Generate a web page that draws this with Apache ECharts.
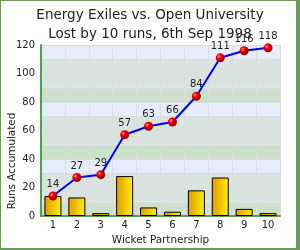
<!DOCTYPE html>
<html><head><meta charset="utf-8">
<script src="https://cdn.jsdelivr.net/npm/echarts@6/dist/echarts.min.js"></script>
<style>html,body{margin:0;padding:0;background:#fff}#c{width:300px;height:250px}</style>
</head><body><div id="c"></div>
<script>
var categories = ['1','2','3','4','5','6','7','8','9','10'];
var accumulated = [14, 27, 29, 57, 63, 66, 84, 111, 116, 118];
var partnership = [14, 13, 2, 28, 6, 3, 18, 27, 5, 2];
var yTicks = [0, 20, 40, 60, 80, 100, 120];
var titleText = 'Energy Exiles vs. Open University';
var subtitleText = 'Lost by 10 runs, 6th Sep 1998';

var font = 'DejaVu Sans';
var chart = echarts.init(document.getElementById('c'), null, {renderer: 'canvas'});
chart.setOption({
  animation: false,
  backgroundColor: '#fff',
  title: [
    {text: titleText, left: 'center', top: 3, textStyle: {fontFamily: font, fontSize: 13.5, fontWeight: 'normal', color: '#222'}},
    {text: subtitleText, left: 'center', top: 22, textStyle: {fontFamily: font, fontSize: 13.5, fontWeight: 'normal', color: '#222'}}
  ],
  graphic: [
    {type: 'rect', shape: {x: 0, y: 0, width: 300, height: 1}, style: {fill: '#6a9a5a'}},
    {type: 'rect', shape: {x: 0, y: 0, width: 1, height: 250}, style: {fill: '#6a9a5a'}},
    {type: 'rect', shape: {x: 296, y: 0, width: 4, height: 250}, style: {fill: '#6a9a5a'}},
    {type: 'rect', shape: {x: 0, y: 248, width: 300, height: 2}, style: {fill: '#6a9a5a'}},
    {type: 'text', x: 12, y: 161, rotation: Math.PI / 2, style: {text: 'Runs Accumulated', fontFamily: font, fontSize: 10.4, fill: '#222', align: 'center', verticalAlign: 'middle'}}
  ],
  grid: {left: 41, right: 20, top: 45, bottom: 34, containLabel: false},
  xAxis: {
    type: 'category', data: categories,
    name: 'Wicket Partnership', nameLocation: 'middle', nameGap: 13,
    nameTextStyle: {fontFamily: font, fontSize: 10.4, color: '#222'},
    axisLine: {lineStyle: {color: '#5a9a5a', width: 2}},
    axisTick: {show: false},
    axisLabel: {fontFamily: font, fontSize: 10, color: '#222', margin: 4},
    splitLine: {show: true, lineStyle: {color: '#dddddd', width: 1}}
  },
  yAxis: {
    type: 'value', min: 0, max: 120, interval: 10,
    axisLine: {show: true, lineStyle: {color: '#5a9a5a', width: 2}},
    axisTick: {show: false},
    axisLabel: {fontFamily: font, fontSize: 10, color: '#222', margin: 6,
      formatter: function (v) { return yTicks.indexOf(v) >= 0 ? String(v) : ''; }},
    splitLine: {show: true, lineStyle: {color: '#dddddd', width: 1}},
    splitArea: {show: true, areaStyle: {color: ['#cde0cb', '#d9e4e1', '#d9e4e1', '#e6ecfc']}}
  },
  series: [
    {
      type: 'bar', data: partnership, barWidth: 17, z: 2,
      itemStyle: {
        borderColor: '#000', borderWidth: 1,
        color: new echarts.graphic.LinearGradient(0, 0, 1, 0, [
          {offset: 0, color: '#e39a00'}, {offset: 1, color: '#fff000'}
        ])
      }
    },
    {
      type: 'line', data: accumulated, z: 3,
      lineStyle: {color: '#0000ff', width: 2},
      symbol: 'circle', symbolSize: 9,
      itemStyle: {
        color: new echarts.graphic.RadialGradient(0.35, 0.35, 0.7, [
          {offset: 0, color: '#ff9090'}, {offset: 0.35, color: '#ee0000'}, {offset: 1, color: '#8a0000'}
        ]),
        borderWidth: 0
      },
      label: {show: true, position: 'top', distance: 2, fontFamily: font, fontSize: 10, color: '#222'}
    }
  ]
});
</script></body></html>
